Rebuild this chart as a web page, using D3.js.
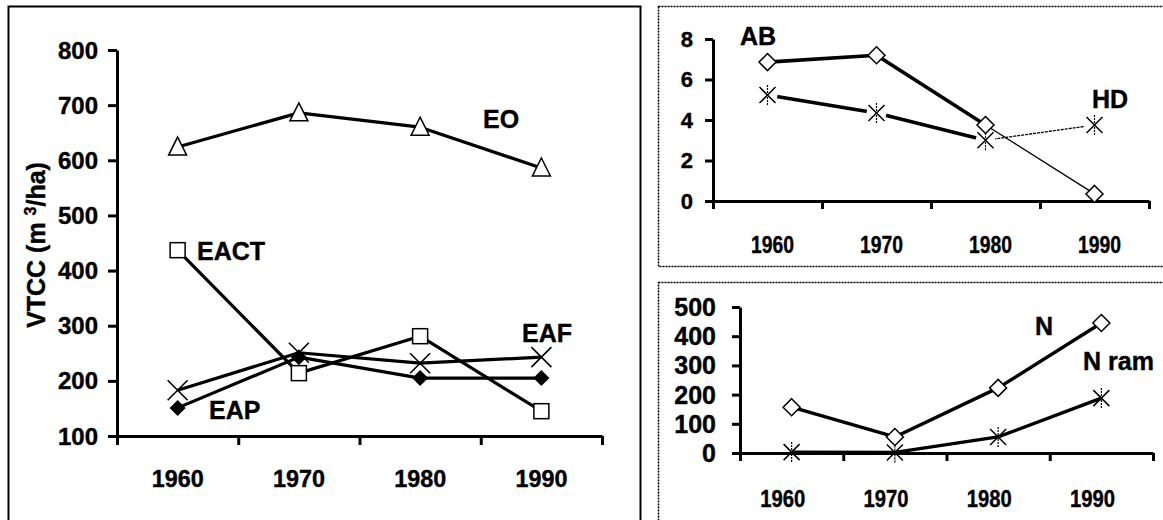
<!DOCTYPE html>
<html>
<head>
<meta charset="utf-8">
<script src="https://cdn.jsdelivr.net/npm/d3@7"></script>
<style>
  body { margin: 0; background: #fff; }
  svg { display: block; font-family: "Liberation Sans", Arial, sans-serif; font-weight: bold; }
  svg text { stroke: #000; stroke-width: 0.4px; }
</style>
</head>
<body>
<div class="canvas"></div>
<script>
// Data
const years = ["1960", "1970", "1980", "1990"];

// left panel: VTCC (m3/ha)
const leftTicks = [100, 200, 300, 400, 500, 600, 700, 800];
const eo = [624, 686, 660, 586];
const eact = [437, 214, 281, 145];
const eaf = [183, 251, 232, 243];
const eap = [151, 243, 205, 205];

// top right panel
const topTicks = [0, 2, 4, 6, 8];
const ab = [6.86, 7.2, 3.75, 0.35];
const hd = [5.23, 4.35, 3.0, 3.75];

// bottom right panel
const bottomTicks = [0, 100, 200, 300, 400, 500];
const nTotal = [157, 55, 223, 445];
const nRam = [3, 2, 55, 188];

const svg = d3.select(".canvas")
    .append("svg")
    .attr("width", 1163)
    .attr("height", 520);

// Panel frames
svg.append("rect")
    .attr("x", 8.5).attr("y", 6.5)
    .attr("width", 632).attr("height", 540)
    .attr("fill", "none").attr("stroke", "#000").attr("stroke-width", 2);

svg.append("rect")
    .attr("x", 658.5).attr("y", 6.5)
    .attr("width", 560).attr("height", 260)
    .attr("fill", "none").attr("stroke", "#000").attr("stroke-width", 1.5)
    .attr("stroke-dasharray", "2,1");

svg.append("rect")
    .attr("x", 658.5).attr("y", 282.5)
    .attr("width", 560).attr("height", 300)
    .attr("fill", "none").attr("stroke", "#000").attr("stroke-width", 1.5)
    .attr("stroke-dasharray", "2,1");

// Marker shapes
function marker(g, type, x, y) {
    if (type === "triangle") {
        g.append("path")
            .attr("d", `M${x},${y - 10}L${x + 9},${y + 8}L${x - 9},${y + 8}Z`)
            .attr("fill", "#fff").attr("stroke", "#000").attr("stroke-width", 1.5);
    } else if (type === "square") {
        g.append("rect")
            .attr("x", x - 7.5).attr("y", y - 7.5)
            .attr("width", 15).attr("height", 15)
            .attr("fill", "#fff").attr("stroke", "#000").attr("stroke-width", 1.5);
    } else if (type === "diamondFill") {
        g.append("path")
            .attr("d", `M${x},${y - 8}L${x + 8},${y}L${x},${y + 8}L${x - 8},${y}Z`)
            .attr("fill", "#000");
    } else if (type === "diamond") {
        g.append("path")
            .attr("d", `M${x},${y - 8.5}L${x + 8.5},${y}L${x},${y + 8.5}L${x - 8.5},${y}Z`)
            .attr("fill", "#fff").attr("stroke", "#000").attr("stroke-width", 1.5);
    } else if (type === "cross") {
        g.append("path")
            .attr("d", `M${x - 10},${y - 10}L${x + 10},${y + 10}M${x - 10},${y + 10}L${x + 10},${y - 10}`)
            .attr("stroke", "#000").attr("stroke-width", 1.6);
    } else if (type === "star" || type === "starBg") {
        if (type === "starBg") {
            g.append("circle").attr("cx", x).attr("cy", y).attr("r", 10).attr("fill", "#fff");
        }
        g.append("path")
            .attr("d", `M${x - 8},${y - 8}L${x + 8},${y + 8}M${x - 8},${y + 8}L${x + 8},${y - 8}`)
            .attr("stroke", "#000").attr("stroke-width", 1.5);
        g.append("path")
            .attr("d", `M${x},${y - 10}L${x},${y + 10}`)
            .attr("stroke", "#000").attr("stroke-width", 1.2)
            .attr("stroke-dasharray", "2,1");
    }
}

// Draws axes for one panel and returns the scales
function drawAxes(p) {
    const x = d3.scaleBand().domain(years).range([p.x0, p.x1]);
    const y = d3.scaleLinear().domain([p.ticks[0], p.ticks[p.ticks.length - 1]]).range([p.yBottom, p.yTop]);
    const edge = d3.scaleLinear().domain([0, years.length]).range([p.x0, p.x1]);

    const yAxis = svg.append("g")
        .attr("transform", `translate(${p.x0},0)`)
        .call(d3.axisLeft(y).tickValues(p.ticks).tickSize(p.tickLen).tickSizeOuter(0).tickFormat(""));

    const xAxis = svg.append("g")
        .attr("transform", `translate(0,${p.yBottom})`)
        .call(d3.axisBottom(edge).tickValues(d3.range(years.length + 1)).tickSize(p.tickLen).tickSizeOuter(0).tickFormat(""));

    [yAxis, xAxis].forEach(a => {
        a.select(".domain").attr("stroke", "#000").attr("stroke-width", 3);
        a.selectAll(".tick line").attr("stroke", "#000").attr("stroke-width", 3);
    });

    // y tick labels
    svg.append("g").selectAll("text")
        .data(p.ticks)
        .enter().append("text")
        .attr("x", p.yLabelRight)
        .attr("y", d => y(d))
        .attr("dy", "0.36em")
        .attr("text-anchor", "end")
        .style("font-size", p.yFont + "px")
        .text(d => d);

    // x tick labels
    const xl = svg.append("g").selectAll("text")
        .data(years)
        .enter().append("text")
        .attr("x", d => x(d) + x.bandwidth() / 2 + p.xLabelShift)
        .attr("y", p.xLabelBase)
        .attr("text-anchor", "middle")
        .style("font-size", p.xFont + "px")
        .text(d => d);
    if (p.xLabelWidth) {
        xl.attr("textLength", p.xLabelWidth).attr("lengthAdjust", "spacingAndGlyphs");
    }

    return { x: x, y: y };
}

function drawSeries(s, values, width, dash, from, to) {
    const pts = values.map((v, i) => [s.x(years[i]) + s.x.bandwidth() / 2, s.y(v)]);
    const seg = pts.slice(from, to + 1);
    svg.append("path")
        .attr("d", d3.line()(seg))
        .attr("fill", "none")
        .attr("stroke", "#000")
        .attr("stroke-width", width)
        .attr("stroke-dasharray", dash || null)
        .attr("stroke-linejoin", "round");
    return pts;
}

function drawMarkers(pts, type) {
    const g = svg.append("g");
    pts.forEach(p => marker(g, type, p[0], p[1]));
}

function label(txt, x, y, size) {
    svg.append("text")
        .attr("x", x).attr("y", y)
        .style("font-size", size + "px")
        .text(txt);
}

// ---- Left panel ----
const leftPanel = drawAxes({
    x0: 117, x1: 602, yTop: 50, yBottom: 436,
    ticks: leftTicks, tickLen: 9,
    yLabelRight: 98, yFont: 24,
    xLabelBase: 487, xFont: 24, xLabelShift: 0, xLabelWidth: 52
});

const eoPts = drawSeries(leftPanel, eo, 3.2, null, 0, 3);
const eactPts = drawSeries(leftPanel, eact, 3.2, null, 0, 3);
const eafPts = drawSeries(leftPanel, eaf, 3.2, null, 0, 3);
const eapPts = drawSeries(leftPanel, eap, 3.2, null, 0, 3);
drawMarkers(eoPts, "triangle");
drawMarkers(eafPts, "cross");
drawMarkers(eapPts, "diamondFill");
drawMarkers(eactPts, "square");

label("EO", 483, 128, 25);
label("EACT", 197, 260, 25);
label("EAF", 522, 342, 25);
label("EAP", 209, 419, 25);

// y axis title, rotated
const yTitle = svg.append("text")
    .attr("transform", "translate(45,245) rotate(-90)")
    .attr("text-anchor", "middle")
    .style("font-size", "25px");
yTitle.append("tspan").text("VTCC (m ");
yTitle.append("tspan").attr("dy", -9).style("font-size", "16px").text("3");
yTitle.append("tspan").attr("dy", 9).text("/ha)");

// ---- Top right panel ----
const topPanel = drawAxes({
    x0: 713, x1: 1149, yTop: 39, yBottom: 201,
    ticks: topTicks, tickLen: 8,
    yLabelRight: 693, yFont: 22,
    xLabelBase: 253, xFont: 24, xLabelShift: 5, xLabelWidth: 43
});

const abPts = drawSeries(topPanel, ab, 3.6, null, 0, 2);
drawSeries(topPanel, ab, 1.3, null, 2, 3);
const hdPts = drawSeries(topPanel, hd, 3.6, null, 0, 2);
drawSeries(topPanel, hd, 1.3, "3,1", 2, 3);
drawMarkers(hdPts, "starBg");
drawMarkers(abPts, "diamond");

label("AB", 740, 45, 25);
label("HD", 1092, 108, 25);

// ---- Bottom right panel ----
const bottomPanel = drawAxes({
    x0: 740, x1: 1153, yTop: 307, yBottom: 453,
    ticks: bottomTicks, tickLen: 8,
    yLabelRight: 716, yFont: 25,
    xLabelBase: 507, xFont: 24, xLabelShift: -9, xLabelWidth: 45
});

const nPts = drawSeries(bottomPanel, nTotal, 3.4, null, 0, 3);
const ramPts = drawSeries(bottomPanel, nRam, 3.4, null, 0, 3);
drawMarkers(ramPts, "star");
drawMarkers(nPts, "diamond");

label("N", 1035, 335, 25);
label("N ram", 1083, 370, 25);
</script>
</body>
</html>
